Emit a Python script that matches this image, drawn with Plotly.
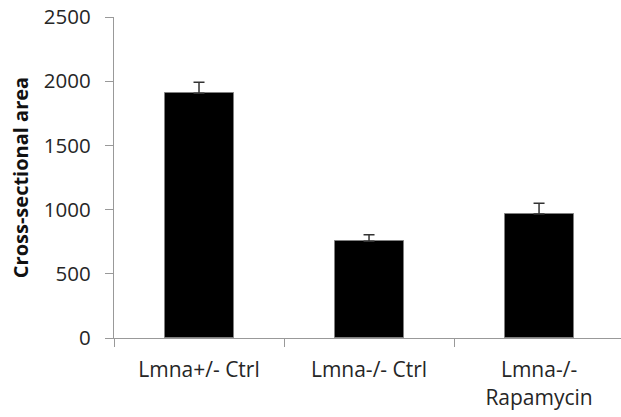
import plotly.graph_objects as go

categories = ["Lmna+/- Ctrl", "Lmna-/- Ctrl", "Lmna-/-<br>Rapamycin"]
values = [1906, 753, 966]
errors = [85, 52, 83]
y_ticks = [0, 500, 1000, 1500, 2000, 2500]

fig = go.Figure()
fig.add_trace(go.Bar(
    x=categories,
    y=values,
    width=0.406,
    marker=dict(color="black", line=dict(color="#808080", width=1)),
    error_y=dict(type="data", array=errors, symmetric=False,
                 arrayminus=[0] * len(errors),
                 color="#333333", thickness=1.5, width=5.5),
))

font_family = "'Open Sans', sans-serif"
fig.update_layout(
    width=621, height=417,
    margin=dict(l=114, r=0, t=17, b=79, autoexpand=False),
    plot_bgcolor="white", paper_bgcolor="white",
    showlegend=False,
    font=dict(family=font_family, size=16, color="#262626"),
    bargap=0,
)
fig.update_xaxes(
    type="category",
    range=[-0.5, 2.482],
    showline=True, linecolor="#999999", linewidth=1.3,
    ticks="outside", ticklen=8, tickcolor="#999999", tickwidth=1.3,
    tickson="boundaries",
    ticklabelstandoff=13,
    tickfont=dict(size=21, color="#262626", family=font_family),
    showgrid=False, zeroline=False,
)
fig.update_yaxes(
    range=[0, 2500],
    tickmode="array", tickvals=y_ticks, ticktext=[str(v) for v in y_ticks],
    showline=True, linecolor="#999999", linewidth=1.3,
    ticks="outside", ticklen=8, tickcolor="#999999", tickwidth=1.3,
    ticklabelstandoff=10,
    tickfont=dict(size=20.5, color="#262626", family=font_family),
    showgrid=False, zeroline=False,
    title=dict(text="<b>Cross-sectional area</b>",
               font=dict(size=20, color="#111111", family=font_family),
               standoff=9),
)

fig.write_html("out.html", config={"displayModeBar": False},
               post_script="document.body.style.margin='0';document.body.style.padding='0';")
